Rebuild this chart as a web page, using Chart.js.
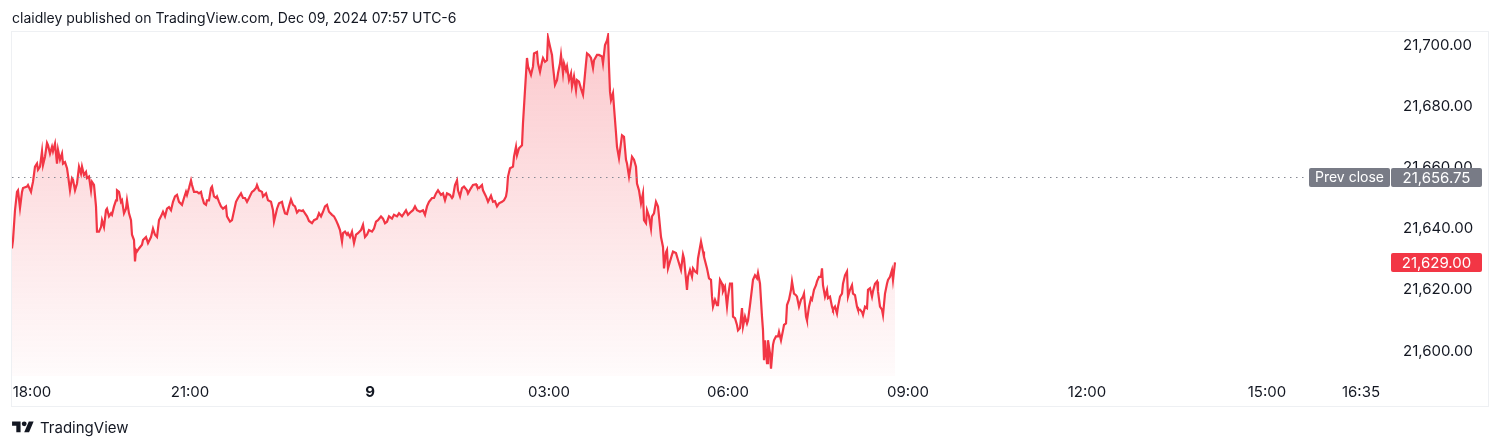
<!DOCTYPE html>
<html>
<head>
<meta charset="utf-8">
<script src="https://cdn.jsdelivr.net/npm/chart.js@4/dist/chart.umd.min.js"></script>
<style>
  html, body { margin: 0; padding: 0; background: #fff; }
  #wrap { position: relative; width: 1500px; height: 448px; overflow: hidden; font-family: Inter, "Noto Sans", sans-serif; color: #131722; }
  #chart { position: absolute; left: 0; top: 0; }
  #title { position: absolute; left: 12px; top: 9px; font-size: 14px; white-space: nowrap; }
  #brand { position: absolute; left: 12px; top: 418px; display: flex; align-items: center; font-size: 15px; }
  #brand svg { margin-right: 6px; }
</style>
</head>
<body>
<div id="wrap">
  <canvas id="chart" width="1500" height="448"></canvas>
  <div id="title">claidley published on TradingView.com, Dec 09, 2024 07:57 UTC-6</div>
  <div id="brand">
    <svg width="22" height="17" viewBox="0 0 36 28"><path fill="#131722" d="M14 22H7V11H0V4h14v18zM28 22h-8l7.5-18h8L28 22z"/><circle fill="#131722" cx="20" cy="8" r="4"/></svg>
    <span>TradingView</span>
  </div>
</div>
<script>
// 1-minute bar index (TradingView's time scale is index based) and price
const bars = [
  0, 1, 3, 5, 6, 8, 10, 11, 15, 16, 19, 20, 21, 23, 25, 26, 28, 30, 31, 33,
  35, 36, 38, 40, 41, 43, 45, 46, 48, 50, 51, 53, 55, 56, 58, 60, 61, 63, 65, 67,
  69, 70, 72, 74, 75, 77, 79, 80, 82, 84, 85, 87, 89, 90, 92, 94, 95, 97, 99, 100,
  102, 104, 105, 107, 109, 110, 112, 114, 115, 117, 119, 120, 122, 123, 124, 125, 127, 130, 131, 134,
  136, 139, 141, 143, 145, 147, 149, 151, 153, 155, 157, 159, 161, 163, 165, 167, 170, 172, 174, 175,
  177, 179, 180, 182, 185, 187, 189, 190, 192, 194, 195, 197, 199, 200, 202, 204, 205, 207, 209, 211,
  214, 215, 218, 220, 224, 226, 229, 231, 233, 235, 237, 240, 242, 244, 245, 247, 250, 251, 254, 256,
  259, 261, 262, 264, 265, 267, 270, 271, 273, 275, 277, 279, 281, 283, 285, 287, 290, 291, 293, 295,
  297, 300, 302, 305, 307, 309, 311, 313, 315, 317, 320, 322, 324, 326, 328, 330, 331, 333, 335, 336,
  338, 340, 342, 344, 346, 349, 351, 353, 355, 357, 360, 362, 364, 366, 369, 371, 373, 375, 377, 380,
  382, 385, 387, 390, 392, 394, 396, 399, 401, 403, 405, 408, 411, 413, 415, 417, 420, 422, 424, 426,
  429, 431, 433, 435, 438, 440, 441, 443, 445, 446, 448, 450, 452, 455, 456, 459, 461, 464, 465, 467,
  470, 471, 474, 476, 479, 481, 483, 485, 487, 490, 492, 494, 495, 496, 498, 501, 502, 504, 505, 507,
  510, 511, 513, 515, 516, 519, 521, 522, 525, 526, 528, 530, 531, 533, 535, 536, 538, 540, 541, 543,
  545, 546, 548, 549, 551, 552, 554, 555, 557, 559, 560, 562, 564, 565, 567, 569, 571, 572, 574, 575,
  577, 579, 581, 582, 585, 587, 590, 591, 593, 595, 596, 597, 598, 599, 601, 602, 604, 605, 607, 609,
  610, 612, 614, 615, 617, 619, 620, 622, 624, 625, 627, 629, 631, 632, 634, 635, 637, 639, 640, 642,
  644, 646, 647, 649, 651, 652, 654, 655, 656, 658, 660, 661, 664, 666, 669, 671, 672, 675, 676, 678,
  680, 681, 683, 685, 686, 689, 691, 692, 695, 697, 699, 700, 701, 703, 705, 706, 708, 710, 711, 713,
  715, 716, 718, 720, 721, 723, 725, 726, 728, 730, 731, 733, 735, 736, 738, 740, 741, 743, 745, 746,
  748, 750, 751, 752, 753, 755, 756, 758, 759, 761, 762, 764, 766, 767, 769, 771, 772, 774, 775, 777,
  779, 780, 782, 784, 785, 787, 789, 791, 792, 794, 795, 797, 799, 800, 802, 804, 805, 807, 809, 810,
  811, 813, 815, 816, 818, 820, 821, 823, 825, 826, 828, 830, 831, 833, 835, 836, 838, 840, 841, 843,
  845, 846, 848, 850, 851, 853, 855, 856, 858, 860, 861, 863, 865, 866, 868, 870, 871, 873, 875, 876,
  878, 880, 881, 883
];
const prices = [
  21633.5, 21636.25, 21646, 21652, 21652.5, 21646.75, 21652, 21653.25, 21653.75, 21654.25, 21652, 21653.75, 21655.25, 21660.25, 21661.25, 21659.25, 21660.25, 21665.25, 21660.75, 21663.5,
  21668, 21667.25, 21664.5, 21666.75, 21665.25, 21667.75, 21661.25, 21665.75, 21662.5, 21664.5, 21661.25, 21661.75, 21659.75, 21657.5, 21652.5, 21656.5, 21656, 21652.5, 21654.75, 21660.25,
  21658, 21660.25, 21657.5, 21658.5, 21656.5, 21657, 21652.5, 21655.25, 21654.25, 21647.25, 21639, 21639, 21640.5, 21642.75, 21640.5, 21646, 21646.5, 21644, 21645, 21644.5,
  21647.25, 21649.25, 21652.5, 21652, 21648.75, 21649.25, 21645, 21646.5, 21649.25, 21645, 21642.75, 21638, 21636.25, 21629.25, 21633, 21632.5, 21633.5, 21634.75, 21636.25, 21637.25,
  21635.25, 21637.25, 21640, 21638, 21637.25, 21642.75, 21644, 21645.5, 21644, 21646.5, 21647, 21646, 21648.75, 21650.5, 21651, 21648.75, 21647.75, 21650, 21652, 21651,
  21653.25, 21655.75, 21654.25, 21652, 21652, 21651.5, 21652, 21650.5, 21648.25, 21647.75, 21649.25, 21649.25, 21653.25, 21653.75, 21650.5, 21650, 21650.5, 21648.75, 21647.25, 21646.5,
  21647.25, 21644, 21642.25, 21642.75, 21648.75, 21650, 21651.5, 21650, 21650, 21648.75, 21650, 21652, 21652.5, 21653.25, 21654.25, 21652.5, 21652, 21650.5, 21651.5, 21649.25,
  21648.75, 21646, 21642.25, 21645, 21646.5, 21648.25, 21648.75, 21647.25, 21645, 21644.75, 21647.25, 21649.5, 21647.75, 21647.25, 21645.25, 21646, 21645.75, 21646, 21645, 21644,
  21642.5, 21641.75, 21642.75, 21643.25, 21645, 21644, 21645.5, 21647.25, 21647.75, 21645.5, 21644.5, 21644, 21642.75, 21641.25, 21639.5, 21635.75, 21638.5, 21639, 21638, 21638.5,
  21637.25, 21639, 21635.25, 21638, 21638.5, 21639.5, 21641.25, 21637.25, 21638, 21639.5, 21639, 21640, 21642.25, 21642.75, 21644, 21643.25, 21641.75, 21642.25, 21644, 21643.25,
  21644.5, 21644, 21645, 21644, 21645, 21646, 21644.5, 21645.5, 21646, 21647.25, 21646, 21645.5, 21646, 21644.5, 21647.25, 21648.75, 21650, 21650, 21651.5, 21652.5,
  21651, 21651.5, 21649.25, 21651.5, 21651, 21650, 21650.5, 21654.25, 21655.75, 21652.5, 21650.5, 21653.25, 21653.75, 21652.5, 21651.5, 21653.25, 21654.25, 21654.5, 21653.75, 21653.25,
  21654.25, 21652.5, 21650.5, 21648.75, 21650.75, 21648.75, 21649, 21647.25, 21648.25, 21648.75, 21649.25, 21650.5, 21652.5, 21657, 21659.75, 21660.25, 21663.5, 21666.75, 21664, 21666.25,
  21667.25, 21674.5, 21685.25, 21695.75, 21693, 21690.25, 21693, 21697.25, 21697.75, 21694, 21691.25, 21694.5, 21695.75, 21694.5, 21695, 21702.5, 21699.5, 21696.75, 21693, 21687,
  21688.5, 21690.75, 21694, 21696.75, 21690.75, 21694, 21691.75, 21693, 21688.5, 21690.75, 21686.5, 21689.75, 21685.25, 21688.5, 21688, 21685.75, 21683.75, 21687, 21694, 21697.25,
  21696.75, 21695.75, 21692.5, 21695, 21696.75, 21696.75, 21696.25, 21694, 21700, 21701.5, 21703, 21693, 21684.75, 21682, 21684.25, 21679.75, 21671.25, 21666.75, 21663, 21668,
  21670.5, 21670, 21662.5, 21661.25, 21657, 21661.25, 21663.5, 21662.5, 21660.25, 21654.75, 21652.5, 21648.25, 21651.5, 21642.75, 21641.75, 21646, 21644, 21640, 21644, 21645,
  21648.75, 21647.25, 21644, 21637.25, 21634, 21627, 21632.25, 21633, 21627, 21629.25, 21631.5, 21632.5, 21632, 21629.75, 21626.5, 21631.5, 21630.25, 21620, 21624.25, 21626.5,
  21624.25, 21627, 21626, 21625.5, 21630.25, 21635.75, 21632.5, 21630.75, 21627, 21623.75, 21623.25, 21617.75, 21614.5, 21616.75, 21615, 21615, 21623.25, 21622, 21619.5, 21621,
  21614.5, 21617.75, 21622, 21622, 21611.25, 21610.75, 21608.5, 21606.75, 21607.5, 21614, 21608, 21611.25, 21609, 21610, 21615, 21620.5, 21623.25, 21624.75, 21623.75, 21625.5,
  21622, 21611.25, 21606.75, 21597, 21603.5, 21596, 21603.5, 21599.25, 21594.25, 21602, 21603.5, 21604.75, 21604.75, 21606.25, 21603.5, 21606.75, 21608.5, 21609, 21615, 21616.75,
  21620, 21622.75, 21618.75, 21618.25, 21617.75, 21614.5, 21616.75, 21617.75, 21618.75, 21611.25, 21610, 21614.5, 21617.25, 21616.75, 21620, 21621.5, 21622.75, 21624.25, 21624.25, 21627,
  21621.5, 21617.75, 21620, 21617.25, 21617.75, 21614.5, 21613.5, 21614.5, 21612.25, 21614.5, 21617.75, 21618.75, 21622, 21624.75, 21626, 21617.75, 21620, 21621.5, 21618.75, 21618.25,
  21614.5, 21613.5, 21613.5, 21612.75, 21611.75, 21614.5, 21614, 21620, 21620.5, 21617.75, 21619.5, 21622, 21622.75, 21619.5, 21614.5, 21613.5, 21611.75, 21618.75, 21622, 21623.25,
  21624.25, 21626.5, 21623.25, 21629
];

const timeTickBars = [20, 178, 358, 537, 716, 896, 1075, 1255, 1349];
const timeTickLabels = ['18:00', '21:00', '9', '03:00', '06:00', '09:00', '12:00', '15:00', '16:35'];
const priceTicks = [21600, 21620, 21640, 21660, 21680, 21700];
const prevClose = 21656.75;
const lastPrice = 21629;

const FONT = 'Inter, "Noto Sans", sans-serif';
const RED = '#f23645';
const GREY = '#787b86';

const fmt = (v) => v.toLocaleString('en-US', {minimumFractionDigits: 2, maximumFractionDigits: 2});

// frame, previous close line and price labels on the right scale
const overlay = {
	id: 'overlay',
	beforeDraw(chart) {
		const {ctx} = chart;
		ctx.save();
		ctx.strokeStyle = '#eef0f3';
		ctx.lineWidth = 1;
		ctx.strokeRect(11.5, 31.5, 1477, 375);
		ctx.restore();
	},
	afterDraw(chart) {
		const
			{ctx, chartArea} = chart,
			y = chart.scales.y;

		const tag = (x, w, value, color, text, size) => {
			const py = Math.round(y.getPixelForValue(value));
			ctx.fillStyle = color;
			ctx.beginPath();
			ctx.roundRect(x, py - 9, w, 19, 2);
			ctx.fill();
			ctx.fillStyle = '#fff';
			ctx.font = size + 'px ' + FONT;
			ctx.textBaseline = 'middle';
			ctx.textAlign = 'center';
			ctx.fillText(text, x + w / 2, py + 1);
		};

		ctx.save();
		const py = Math.round(y.getPixelForValue(prevClose)) + 0.5;
		ctx.strokeStyle = '#868993';
		ctx.lineWidth = 1;
		ctx.setLineDash([1.5, 4.5]);
		ctx.beginPath();
		ctx.moveTo(chartArea.left, py);
		ctx.lineTo(chartArea.right - 82, py);
		ctx.stroke();
		ctx.setLineDash([]);

		tag(chartArea.right - 81, 81, prevClose, GREY, 'Prev close', 14);
		tag(chartArea.right + 1, 91, prevClose, GREY, fmt(prevClose), 15);
		tag(chartArea.right + 1, 91, lastPrice, RED, fmt(lastPrice), 15);
		ctx.restore();
	}
};

Chart.defaults.font.family = FONT;
Chart.defaults.font.size = 15;
Chart.defaults.color = '#131722';

new Chart(document.getElementById('chart'), {
	type: 'line',
	data: {
		datasets: [{
			data: bars.map((b, i) => ({x: b, y: prices[i]})),
			borderColor: RED,
			borderWidth: 2.2,
			pointRadius: 0,
			tension: 0,
			fill: 'start',
			backgroundColor(c) {
				const area = c.chart.chartArea;
				if (!area) {
					return 'rgba(242,54,69,0.15)';
				}
				const g = c.chart.ctx.createLinearGradient(0, area.top, 0, area.bottom);
				g.addColorStop(0, 'rgba(242,54,69,0.27)');
				g.addColorStop(1, 'rgba(242,54,69,0.02)');
				return g;
			}
		}]
	},
	options: {
		responsive: false,
		animation: false,
		devicePixelRatio: 1,
		layout: {padding: {left: 12, right: 12, top: 33, bottom: 42}},
		plugins: {legend: {display: false}, tooltip: {enabled: false}},
		scales: {
			x: {
				type: 'linear',
				min: 0,
				max: 1378,
				grid: {display: false, drawTicks: false},
				border: {display: false},
				afterBuildTicks(s) {
					s.ticks = timeTickBars.map((v) => ({value: v}));
				},
				afterFit(s) {
					s.height = 30;
				},
				ticks: {
					autoSkip: false,
					maxRotation: 0,
					padding: 7,
					font: (c) => ({family: FONT, size: 15, weight: timeTickLabels[c.index] === '9' ? 'bold' : 'normal'}),
					callback: (v, i) => timeTickLabels[i]
				}
			},
			y: {
				position: 'right',
				min: 21591.83,
				max: 21703.92,
				grid: {display: false, drawTicks: false},
				border: {display: false},
				afterBuildTicks(s) {
					s.ticks = priceTicks.map((v) => ({value: v}));
				},
				afterFit(s) {
					s.width = 98;
				},
				ticks: {
					padding: 13,
					callback: (v) => fmt(v)
				}
			}
		}
	},
	plugins: [overlay]
});
</script>
</body>
</html>
